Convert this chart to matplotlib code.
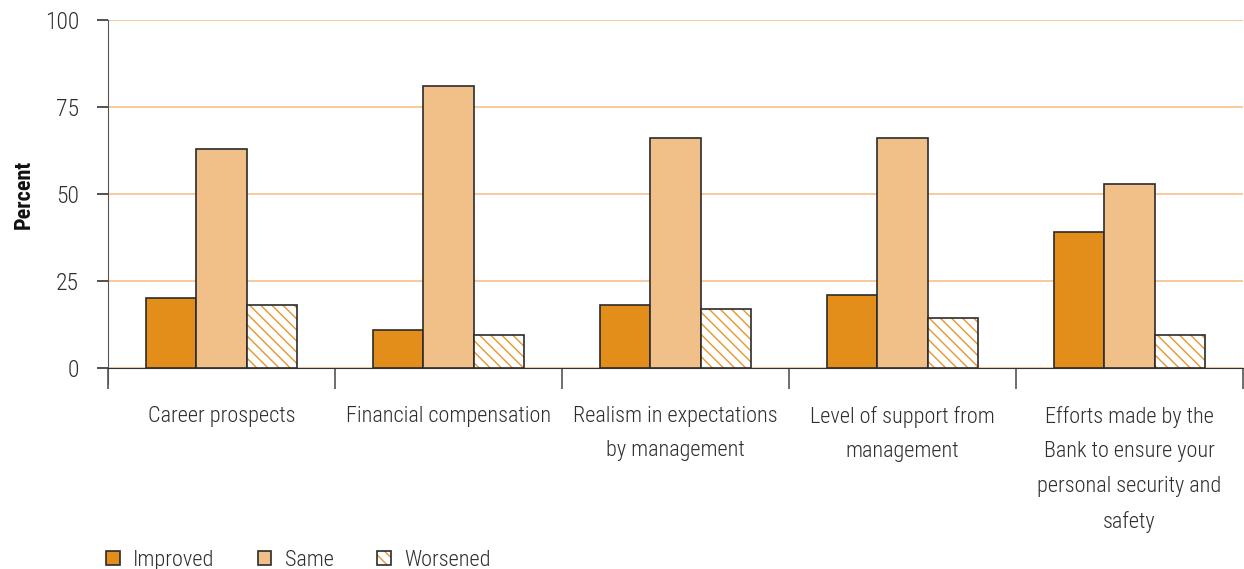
import numpy as np
import matplotlib.pyplot as plt
from matplotlib.patches import Patch

categories = ["Career prospects", "Financial compensation",
              "Realism in expectations\nby management",
              "Level of support from\nmanagement",
              "Efforts made by the\nBank to ensure your\npersonal security and\nsafety"]
improved = [20, 11, 18, 21, 39]
same = [63, 81, 66, 66, 53]
worsened = [18, 9.5, 17, 14.5, 9.5]

c_imp = "#E38E1B"
c_same = "#F1C088"
c_wor = "#E8962B"
edge = "#2b2b2b"
txt = "#2e2e2e"

plt.rcParams['font.family'] = ['Roboto Condensed', 'Roboto', 'DejaVu Sans']
plt.rcParams['font.weight'] = 'light'

fig = plt.figure(figsize=(12.44, 5.69), dpi=100)
ax = fig.add_axes([0.0868, 0.3533, 0.9125, 0.6116])

x = np.arange(len(categories))
w = 0.222
ax.bar(x - w, improved, w, color=c_imp, edgecolor=edge, linewidth=1.2, zorder=3)
ax.bar(x, same, w, color=c_same, edgecolor=edge, linewidth=1.2, zorder=3)
ax.bar(x + w, worsened, w, color="white", edgecolor=c_wor, hatch="\\\\\\",
       linewidth=0, zorder=3)
ax.bar(x + w, worsened, w, fill=False, edgecolor=edge, linewidth=1.2, zorder=4)

ax.set_xlim(-0.5, len(categories) - 0.5)
ax.set_ylim(0, 100)
ax.set_yticks([0, 25, 50, 75, 100])
ax.yaxis.grid(True, color="#F6C696", linewidth=1.3, zorder=0)
ax.set_axisbelow(True)

ax.spines['top'].set_visible(False)
ax.spines['right'].set_visible(False)
ax.spines['left'].set_color("#555555")
ax.spines['bottom'].set_color("#333333")
ax.spines['left'].set_bounds(-4.5, 100)

# category boundaries as ticks, labels in between
ax.set_xticks(np.arange(-0.5, len(categories), 1.0))
ax.set_xticklabels([])
ax.tick_params(axis='x', length=15, width=1.2, color="#555555", direction='out')
ax.tick_params(axis='y', length=8, width=1.2, color="#333333", labelsize=17,
               labelcolor=txt, pad=13)
ax.set_xticks(x, minor=True)
ax.set_xticklabels(categories, minor=True, fontsize=16, color=txt,
                   linespacing=1.83, va='top')
ax.tick_params(axis='x', which='minor', length=0, pad=27.5)

ax.set_ylabel("Percent", fontsize=16, fontweight='bold', color="#111111",
              labelpad=7)

h_imp = Patch(facecolor=c_imp, edgecolor=edge, linewidth=1.2)
h_same = Patch(facecolor=c_same, edgecolor=edge, linewidth=1.2)
h_wor = (Patch(facecolor="white", edgecolor=c_wor, hatch="\\\\\\", linewidth=0),
         Patch(fill=False, edgecolor=edge, linewidth=1.2))
fig.legend([h_imp, h_same, h_wor], ["Improved", "Same", "Worsened"],
           loc='lower left', bbox_to_anchor=(0.069, -0.038), ncol=3,
           frameon=False, fontsize=16, handlelength=0.62, handleheight=0.62,
           handletextpad=0.6, columnspacing=1.95, labelcolor=txt)

fig.savefig("out.png", dpi=100)
